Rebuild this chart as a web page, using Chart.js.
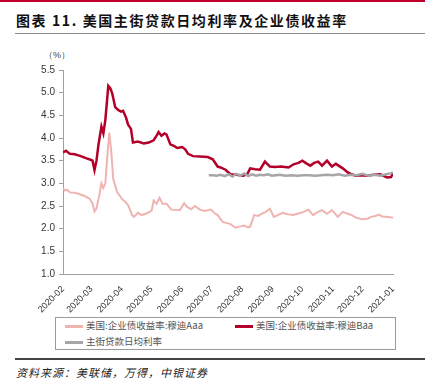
<!DOCTYPE html>
<html>
<head>
<meta charset="utf-8">
<title>美国主街贷款日均利率及企业债收益率</title>
<script src="https://cdn.jsdelivr.net/npm/chart.js"></script>
<style>
    body {
        margin: 0;
        width: 425px;
        height: 391px;
        background: #fff;
        position: relative;
        overflow: hidden;
        font-family: "Liberation Sans", Arial, sans-serif;
    }
    #topbar { position: absolute; left: 0; top: 0; width: 425px; height: 2px; background: #c0002a; }
    #title {
        position: absolute; left: 16px; top: 10px;
        font-family: "Noto Sans CJK SC", sans-serif; font-weight: bold;
        font-size: 14px; letter-spacing: 1.6px; color: #111; white-space: nowrap;
    }
    #titleline { position: absolute; left: 15px; top: 33px; width: 410px; height: 1px; background: #8c8c8c; }
    #unit { position: absolute; left: 44px; top: 49px; font-size: 9px; color: #444; }
    #box { position: absolute; left: 0; top: 0; width: 425px; height: 315px; }
    #legend {
        position: absolute; left: 55px; top: 317px; width: 339px; height: 31px;
        border: 1px solid #9a9a9a; font-size: 9.5px; color: #555;
        font-family: "Noto Sans CJK SC", sans-serif;
    }
    .item { position: absolute; white-space: nowrap; line-height: 12px; }
    .item i { display: inline-block; width: 18px; height: 2.5px; vertical-align: middle; margin-right: 3px; }
    #footline { position: absolute; left: 15px; top: 358px; width: 410px; height: 1.5px; background: #444; }
    #source {
        position: absolute; left: 16px; top: 364px; font-size: 11px; color: #222;
        font-style: italic; font-family: "Noto Sans CJK SC", sans-serif; letter-spacing: 1px;
    }
</style>
</head>
<body>
<div id="topbar"></div>
<div id="title">图表 11. 美国主街贷款日均利率及企业债收益率</div>
<div id="titleline"></div>
<div id="unit">（%）</div>
<div id="box"><canvas id="myChart" width="425" height="315"></canvas></div>
<div id="legend">
    <div class="item" style="left:9px;top:1px"><i style="background:#f0b4b0"></i>美国:企业债收益率:穆迪Aaa</div>
    <div class="item" style="left:179px;top:1px"><i style="background:#b3002a"></i>美国:企业债收益率:穆迪Baa</div>
    <div class="item" style="left:9px;top:17px"><i style="background:#a6a6a6"></i>主街贷款日均利率</div>
</div>
<div id="footline"></div>
<div id="source">资料来源：美联储，万得，中银证券</div>
<script>
    // x = days since 2020-02-01
    var monthLabels = ['2020-02','2020-03','2020-04','2020-05','2020-06','2020-07','2020-08','2020-09','2020-10','2020-11','2020-12','2021-01'];
    var monthDays = [0, 29, 60, 90, 121, 151, 182, 213, 243, 274, 304, 335];

    // 穆迪Aaa
    var aaaDays = [0,2,4,7,12,17,22,27,30,32,34,37,39,41,43,45,47,49,51,53,55,58,60,63,66,68,70,72,76,80,84,88,90,92,95,98,101,105,110,118,119,123,126,130,134,139,144,150,154,157,162,170,175,180,184,187,190,194,198,202,205,210,214,218,223,228,234,238,243,249,254,258,263,268,273,279,284,289,293,297,303,309,313,317,321,324,330,335];
    var aaaValues = [2.89,2.84,2.86,2.8,2.79,2.76,2.72,2.66,2.55,2.38,2.45,2.75,3.0,2.9,3.0,3.6,4.12,3.7,3.1,2.95,2.8,2.72,2.65,2.6,2.52,2.42,2.3,2.26,2.35,2.3,2.33,2.37,2.4,2.62,2.55,2.68,2.55,2.55,2.42,2.41,2.42,2.56,2.48,2.43,2.5,2.42,2.39,2.42,2.34,2.3,2.15,2.1,2.02,2.05,2.07,2.03,2.04,2.3,2.28,2.33,2.36,2.44,2.26,2.3,2.35,2.32,2.3,2.33,2.36,2.42,2.3,2.36,2.41,2.33,2.41,2.26,2.37,2.33,2.3,2.25,2.21,2.22,2.26,2.28,2.31,2.27,2.26,2.24,2.3];

    // 穆迪Baa
    var baaDays = [0,3,7,12,18,24,28,30,32,34,36,39,41,43,46,48,50,53,56,59,61,64,66,69,71,76,82,87,92,95,97,100,103,105,109,113,116,121,124,127,132,139,147,152,157,160,165,170,176,183,187,190,195,200,205,210,215,221,229,234,239,243,247,251,255,259,263,268,273,277,284,289,293,297,303,309,315,322,329,333,335];
    var baaValues = [3.68,3.72,3.65,3.64,3.6,3.55,3.52,3.5,3.29,3.5,3.85,4.25,4.1,4.4,5.15,5.1,4.98,4.68,4.62,4.58,4.6,4.45,4.3,4.2,3.9,3.92,3.88,3.9,3.95,4.05,4.13,4.05,4.1,4.08,3.86,3.82,3.78,3.8,3.75,3.65,3.6,3.59,3.58,3.53,3.37,3.35,3.3,3.2,3.19,3.17,3.2,3.33,3.31,3.3,3.48,3.37,3.36,3.37,3.35,3.42,3.45,3.5,3.44,3.39,3.45,3.48,3.39,3.5,3.37,3.43,3.33,3.24,3.2,3.17,3.18,3.17,3.19,3.2,3.13,3.14,3.22];

    // 主街贷款日均利率
    var mainDays = [148,152,156,160,164,168,172,176,180,184,188,192,196,200,204,208,212,216,220,226,232,238,244,250,256,262,268,274,280,286,292,298,304,310,316,322,328,332,335];
    var mainValues = [3.18,3.18,3.17,3.19,3.16,3.2,3.15,3.21,3.17,3.22,3.16,3.2,3.17,3.19,3.18,3.2,3.17,3.18,3.19,3.17,3.18,3.17,3.18,3.18,3.17,3.18,3.19,3.18,3.2,3.17,3.19,3.18,3.21,3.17,3.19,3.17,3.2,3.22,3.24];

    function pts(xs, ys) {
        return xs.map(function (d, i) { return { x: d, y: ys[i] }; });
    }

    var ctx = document.getElementById('myChart').getContext('2d');
    var chart = new Chart(ctx, {
        type: 'line',
        data: {
            datasets: [
                { label: '主街贷款日均利率', data: pts(mainDays, mainValues), borderColor: '#a6a6a6', borderWidth: 2.5, order: 0 },
                { label: '美国:企业债收益率:穆迪Baa', data: pts(baaDays, baaValues), borderColor: '#b3002a', borderWidth: 2.5, order: 1 },
                { label: '美国:企业债收益率:穆迪Aaa', data: pts(aaaDays, aaaValues), borderColor: '#f0b4b0', borderWidth: 2, order: 2 }
            ]
        },
        options: {
            responsive: false,
            animation: false,
            elements: { point: { radius: 0 }, line: { tension: 0 } },
            layout: { padding: { top: 70, right: 32, left: 0, bottom: 0 } },
            plugins: { legend: { display: false }, tooltip: { enabled: false } },
            scales: {
                x: {
                    type: 'linear',
                    min: 0,
                    max: 335,
                    afterBuildTicks: function (s) {
                        s.ticks = monthDays.map(function (d) { return { value: d }; });
                    },
                    afterFit: function (s) { s.height = 41; },
                    grid: { display: false },
                    border: { display: true, color: '#a0a0a0', width: 1 },
                    ticks: {
                        autoSkip: false,
                        minRotation: 45,
                        maxRotation: 45,
                        padding: 2,
                        color: '#333',
                        font: { family: 'Liberation Sans', size: 9 },
                        callback: function (v) {
                            var i = monthDays.indexOf(v);
                            return i >= 0 ? monthLabels[i] : '';
                        }
                    }
                },
                y: {
                    min: 1,
                    max: 5.5,
                    afterFit: function (s) { s.width = 63; },
                    grid: { drawOnChartArea: false, tickLength: 4, color: '#a0a0a0' },
                    border: { display: true, color: '#a0a0a0', width: 1 },
                    ticks: {
                        stepSize: 0.5,
                        padding: 4,
                        color: '#333',
                        font: { family: 'Liberation Sans', size: 10 },
                        callback: function (v) { return v.toFixed(1); }
                    }
                }
            }
        }
    });
</script>
</body>
</html>
